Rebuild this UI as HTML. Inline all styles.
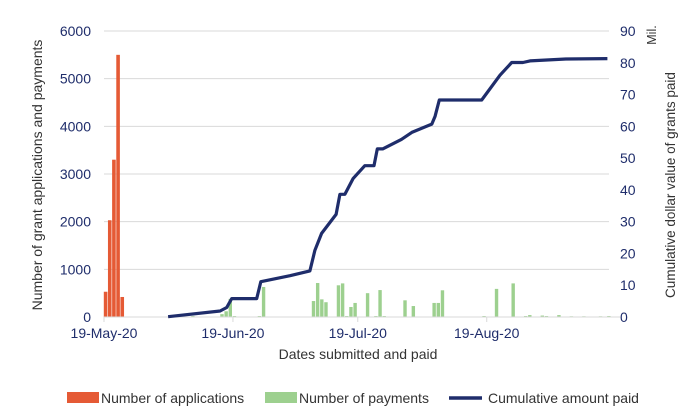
<!DOCTYPE html>
<html><head><meta charset="utf-8"><style>
html,body{margin:0;padding:0;background:#fff}
svg{display:block;font-family:"Liberation Sans",Arial,sans-serif}
</style></head><body>
<svg id="chart" width="700" height="419" viewBox="0 0 700 419">
<g id="grid"></g>
<g id="bars"></g>
<g id="axes"></g>
<g id="line"></g>
<text x="42" y="175" transform="rotate(-90 42 175)" text-anchor="middle" font-size="14" fill="#333">Number of grant applications and payments</text>
<text x="675" y="185" transform="rotate(-90 675 185)" text-anchor="middle" font-size="13.5" fill="#333">Cumulative dollar value of grants paid</text>
<text x="656" y="35" transform="rotate(-90 656 35)" text-anchor="middle" font-size="12.5" fill="#333">Mil.</text>
<text x="358" y="359" text-anchor="middle" font-size="14" fill="#333">Dates submitted and paid</text>
<g>
<g><rect x="67" y="392" width="32" height="11" fill="#e55a35"/><text x="101" y="403" font-size="14" fill="#333">Number of applications</text></g>
<g><rect x="265" y="392" width="32" height="11" fill="#9dd08f"/><text x="299" y="403" font-size="14" fill="#333">Number of payments</text></g>
<g><line x1="449" y1="398" x2="482" y2="398" stroke="#1f2d6b" stroke-width="3.5"/><text x="488" y="403" font-size="14" fill="#333">Cumulative amount paid</text></g>
</g>
</svg>
<script>
// day offsets from 19-May-20
const appDays = [0,1,2,3,4];
const appValues = [530,2030,3300,5500,420];
const payDays = [21,28,29,30,31,37,38,50,51,52,53,56,57,58,59,60,63,65,66,67,72,74,79,80,81,91,94,98,101,102,105,106,109,112,115,119,121];
const payValues = [20,60,120,380,20,20,630,335,713,370,310,665,705,20,210,295,500,20,565,20,350,230,295,295,560,20,590,705,20,40,30,20,40,15,15,15,20];
const lineDays = [15.4,27.9,29.5,30.7,36.7,37.7,44.7,49.5,50.7,52.3,55.8,56.7,57.9,59.9,62.7,64.9,65.7,67,71.5,74,78.8,79.6,80.6,90.8,95.2,98,100.7,102.4,111,121];
const lineValues = [0.1,1.9,3.0,5.8,5.8,11.1,13.0,14.5,21,26.3,32.3,38.6,38.6,43.6,47.6,47.6,52.9,52.9,55.9,58.1,60.7,63.2,68.3,68.3,76.1,80.1,80.1,80.6,81.2,81.3];
const leftTicks = [0,1000,2000,3000,4000,5000,6000];
const rightTicks = [0,10,20,30,40,50,60,70,80,90];
const xTickLabels = ["19-May-20","19-Jun-20","19-Jul-20","19-Aug-20"];
const xTickDays = [0,31,61,92];

const NS="http://www.w3.org/2000/svg";
const X0=104, PX=4.16, Y0=317, YT=31;
const x=d=>X0+d*PX;
const yL=v=>Y0-(v/6000)*(Y0-YT);
const yR=v=>Y0-(v/90)*(Y0-YT);
function mk(t,a,p){const e=document.createElementNS(NS,t);for(const k in a)e.setAttribute(k,a[k]);p.appendChild(e);return e;}
const grid=document.getElementById('grid'),bars=document.getElementById('bars'),axes=document.getElementById('axes'),line=document.getElementById('line');
leftTicks.forEach(v=>{
  if(v>0){const g=mk('line',{x1:X0,x2:609,y1:yL(v),y2:yL(v),stroke:'#d9d9d9','stroke-width':1},grid);
  
  }
  const t=mk('text',{x:91,y:yL(v)+5,'text-anchor':'end','font-size':14,fill:'#1f2d6b'},axes);t.textContent=v;
  
  
});
rightTicks.forEach(v=>{
  const t=mk('text',{x:620,y:yR(v)+5,'font-size':14,fill:'#1f2d6b'},axes);t.textContent=v;
  
  
});
const ax=mk('line',{x1:X0,x2:620,y1:Y0,y2:Y0,stroke:'#d9d9d9','stroke-width':1},axes);


xTickDays.forEach((d,i)=>{
  mk('line',{x1:x(d),x2:x(d),y1:Y0,y2:Y0+5,stroke:'#d9d9d9'},axes);
  const t=mk('text',{x:x(d),y:Y0+21,'text-anchor':'middle','font-size':14,fill:'#1f2d6b'},axes);t.textContent=xTickLabels[i];
  
  
});
appDays.forEach((d,i)=>{
  const r=mk('rect',{x:x(d)-0.2,y:yL(appValues[i]),width:3.6,height:Y0-yL(appValues[i]),fill:'#e55a35'},bars);
  
  
});
payDays.forEach((d,i)=>{
  const r=mk('rect',{x:x(d)-0.2,y:yL(payValues[i]),width:3.4,height:Y0-yL(payValues[i]),fill:'#9dd08f'},bars);
  
  
});
const pts=lineDays.map((d,i)=>x(d).toFixed(1)+','+yR(lineValues[i]).toFixed(1)).join(' ');
const pl=mk('polyline',{points:pts,fill:'none',stroke:'#1f2d6b','stroke-width':3.2,'stroke-linejoin':'round'},line);


</script>
</body></html>
